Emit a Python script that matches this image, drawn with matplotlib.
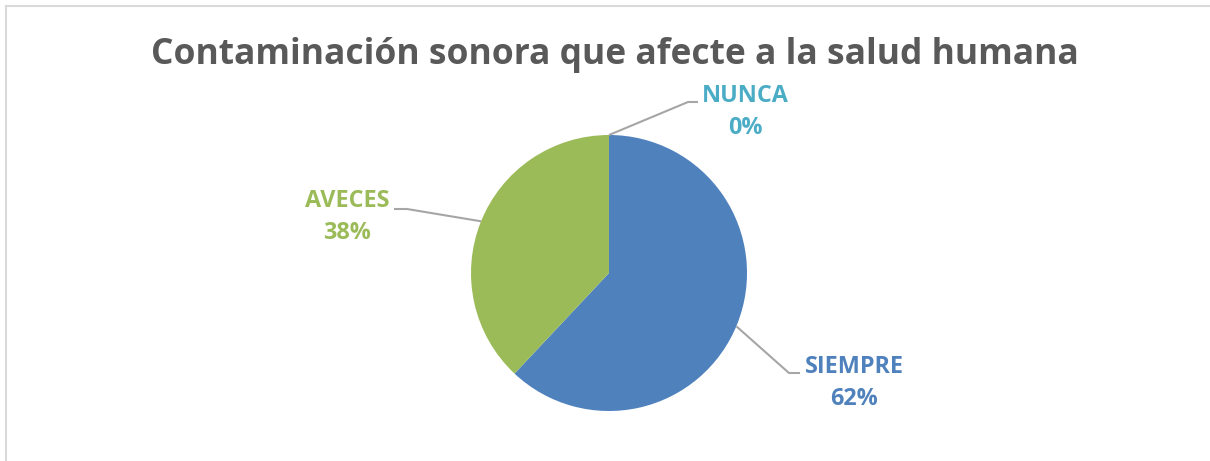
import numpy as np
import matplotlib
matplotlib.use('Agg')
import matplotlib.pyplot as plt
from matplotlib.patches import Rectangle

# Data
categories = ['SIEMPRE', 'AVECES', 'NUNCA']
values = [62, 38, 0]
colors = ['#4F81BD', '#9BBB59', '#4BACC6']
title = 'Contaminación sonora que afecte a la salud humana'

W, H = 1210, 461
fig = plt.figure(figsize=(W / 100, H / 100), dpi=100)
ax = fig.add_axes([0, 0, 1, 1])

# chart frame (right/bottom edges cut off in the reference)
ax.add_patch(Rectangle((6, -20), W + 20, H - 6 + 20, fill=False,
                       edgecolor='#D9D9D9', lw=1.5))

cx, cy, r = 609, H - 273, 138
wedges, _ = ax.pie(values, colors=colors, startangle=90, counterclock=False,
                   radius=r, center=(cx, cy), frame=True,
                   wedgeprops=dict(linewidth=0))
ax.set_xlim(0, W)
ax.set_ylim(0, H)
ax.set_aspect('equal')
ax.axis('off')

ax.text(W / 2 + 10, H - 55, title, ha='center', va='center',
        fontsize=25.5, fontweight='bold', color='#595959', family='Open Sans')

# label placement: text x/y, leader anchor angle on the pie, elbow x/y, end x
label_pos = {
    'SIEMPRE': (854, 383, -22.7, 789, 373, 800),
    'AVECES': (347, 217, 158, 407, 209, 394),
    'NUNCA': (745, 112, 90, 688, 102, 698),
}
for cat, val, col in zip(categories, values, colors):
    tx, ty, ang, ex, ey, hx = label_pos[cat]
    a = np.deg2rad(ang)
    px, py = cx + r * np.cos(a), cy + r * np.sin(a)
    ax.plot([px, ex, hx], [py, H - ey, H - ey], color='#A6A6A6', lw=1.5,
            solid_capstyle='butt')
    ax.text(tx, H - ty, f'{cat}\n{val}%', ha='center', va='center',
            fontsize=16.8, fontweight='bold', color=col, family='Open Sans',
            linespacing=1.45)

fig.savefig('out.png', dpi=100)
